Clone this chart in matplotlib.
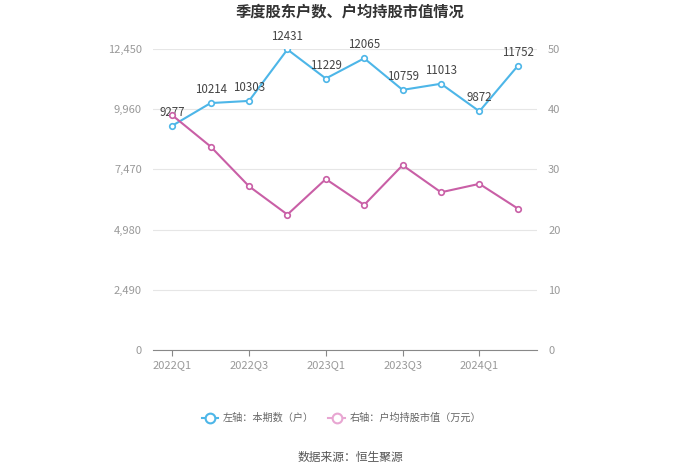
import numpy as np
import matplotlib.pyplot as plt
from matplotlib.lines import Line2D

plt.rcParams['font.family'] = ['Noto Sans CJK SC', 'DejaVu Sans']

quarters = ['2022Q1', '2022Q2', '2022Q3', '2022Q4', '2023Q1',
            '2023Q2', '2023Q3', '2023Q4', '2024Q1', '2024Q2']
holders = [9277, 10214, 10303, 12431, 11229, 12065, 10759, 11013, 9872, 11752]
avg_value = [39.0, 33.8, 27.2, 22.5, 28.4, 24.1, 30.7, 26.2, 27.6, 23.5]
left_ticks = [0, 2490, 4980, 7470, 9960, 12450]
right_ticks = [0, 10, 20, 30, 40, 50]

blue = '#4db6e8'
pink = '#c95fa6'

fig = plt.figure(figsize=(7, 4.74), dpi=100)
ax = fig.add_axes([0.2186, 0.2616, 0.5485, 0.635])
ax2 = ax.twinx()

x = np.arange(len(quarters))
ax.plot(x, holders, color=blue, lw=1.5, marker='o', ms=4,
        mfc='white', mec=blue, mew=1.2, zorder=3)
ax2.plot(x, avg_value, color=pink, lw=1.5, marker='o', ms=4,
         mfc='white', mec=pink, mew=1.2, zorder=3)

for xi, v in zip(x, holders):
    ax.annotate(str(v), (xi, v), xytext=(0, 5), textcoords='offset points',
                ha='center', va='bottom', fontsize=8.3, color='#444444')

ax.set_xlim(-0.5, len(quarters) - 0.5)
ax.set_ylim(0, 12450)
ax2.set_ylim(0, 50)
ax.set_yticks(left_ticks)
ax.set_yticklabels([f'{t:,}' for t in left_ticks])
ax2.set_yticks(right_ticks)
ax.set_xticks(x[::2])
ax.set_xticklabels(quarters[::2])

ax.grid(axis='y', color='#e6e6e6', lw=0.8)
ax.set_axisbelow(True)
for a in (ax, ax2):
    for s in ('top', 'left', 'right', 'bottom'):
        a.spines[s].set_visible(False)
ax.spines['bottom'].set_visible(True)
ax.spines['bottom'].set_color('#888888')
ax.tick_params(axis='x', colors='#999999', labelsize=8, length=4, color='#888888')
ax.tick_params(axis='y', colors='#999999', labelsize=8, length=0, pad=8)
ax2.tick_params(axis='y', colors='#999999', labelsize=8, length=0, pad=8)

fig.text(0.5, 0.975, '季度股东户数、户均持股市值情况', ha='center', va='center',
         fontsize=11, fontweight='bold', color='#333333')

handles = [
    Line2D([], [], color=blue, lw=1.5, marker='o', ms=7, mfc='white', mec=blue, mew=1.5),
    Line2D([], [], color='#e8a6d2', lw=1.5, marker='o', ms=7, mfc='white', mec='#e8a6d2', mew=1.5),
]
fig.legend(handles, ['左轴：本期数（户）', '右轴：户均持股市值（万元）'],
           loc='center', bbox_to_anchor=(0.488, 0.118), ncol=2, frameon=False,
           fontsize=7.3, labelcolor='#666666', handlelength=1.6,
           handletextpad=0.5, columnspacing=1.4)

fig.text(0.5, 0.035, '数据来源：恒生聚源', ha='center', va='center',
         fontsize=8.5, color='#555555')

fig.savefig('out.png', dpi=100)
